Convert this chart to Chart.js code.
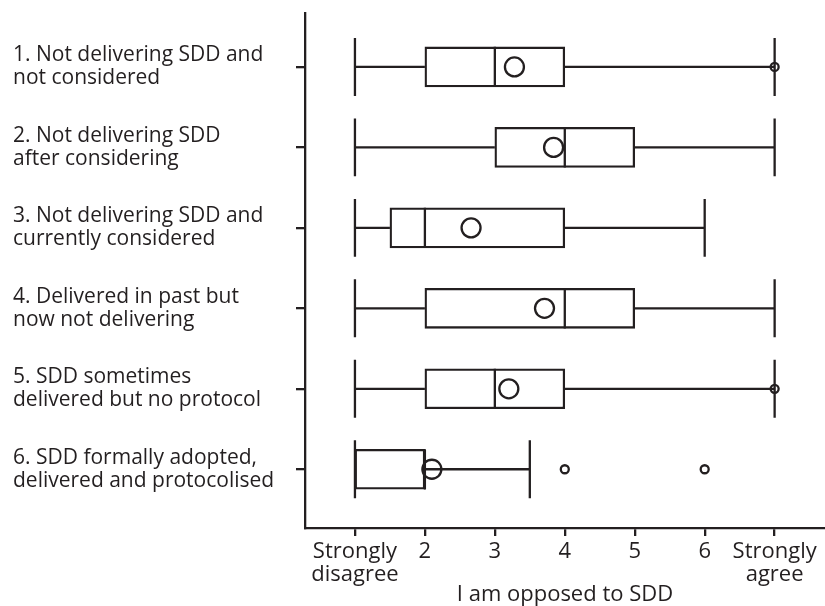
<!DOCTYPE html>
<html>
<head>
<meta charset="utf-8">
<script src="https://cdn.jsdelivr.net/npm/chart.js@4.4.1/dist/chart.umd.min.js"></script>
<style>
    html, body { margin: 0; padding: 0; background: #fff; overflow: hidden; }
    #wrap { width: 825px; height: 606px; }
</style>
</head>
<body>
<div id="wrap"><canvas id="box-chart"></canvas></div>
<script>
// Box plot: opposition to SDD by delivery group
const groupLabels = [
    ['1. Not delivering SDD and', 'not considered'],
    ['2. Not delivering SDD', 'after considering'],
    ['3. Not delivering SDD and', 'currently considered'],
    ['4. Delivered in past but', 'now not delivering'],
    ['5. SDD sometimes', 'delivered but no protocol'],
    ['6. SDD formally adopted,', 'delivered and protocolised']
];
const xTickLabels = [['Strongly', 'disagree'], '2', '3', '4', '5', '6', ['Strongly', 'agree']];

const whiskerMin = [1, 1, 1, 1, 1, 1];
const q1Values = [2, 3, 1.5, 2, 2, 1];
const medians = [3, 4, 2, 4, 3, 2];
const q3Values = [4, 5, 4, 5, 4, 2];
const whiskerMax = [7, 7, 6, 7, 7, 3.5];
const means = [3.28, 3.84, 2.66, 3.71, 3.2, 2.1];
const outliers = [[7], [], [], [], [7], [4, 6]];

const INK = '#231f20';
const STROKE = 2.3;
const BOX_HALF = 0.25;
const CAP_HALF = 0.36;

const gap = { x: null, y: null };

function buildLines() {
    const whiskers = [];
    const medianLines = [];
    groupLabels.forEach((_, i) => {
        const r = i + 1;
        whiskers.push({ x: whiskerMin[i], y: r }, { x: q1Values[i], y: r }, gap);
        whiskers.push({ x: q3Values[i], y: r }, { x: whiskerMax[i], y: r }, gap);
        whiskers.push({ x: whiskerMin[i], y: r - CAP_HALF }, { x: whiskerMin[i], y: r + CAP_HALF }, gap);
        whiskers.push({ x: whiskerMax[i], y: r - CAP_HALF }, { x: whiskerMax[i], y: r + CAP_HALF }, gap);
        medianLines.push({ x: medians[i], y: r - BOX_HALF }, { x: medians[i], y: r + BOX_HALF }, gap);
    });
    return { whiskers, medianLines };
}

const lines = buildLines();
const meanPoints = means.map((m, i) => ({ x: m, y: i + 1 }));
const outlierPoints = [];
outliers.forEach((list, i) => list.forEach(v => outlierPoints.push({ x: v, y: i + 1 })));
const boxData = q1Values.map((q, i) => ({ x: [q, q3Values[i]], y: i + 1 }));

const lineStyle = {
    type: 'scatter',
    showLine: true,
    spanGaps: false,
    borderColor: INK,
    borderWidth: STROKE,
    pointRadius: 0,
    pointHoverRadius: 0
};

new Chart(document.getElementById('box-chart'), {
    type: 'scatter',
    data: {
        datasets: [
            {
                label: 'Mean',
                data: meanPoints,
                pointRadius: 9.5,
                pointBorderWidth: STROKE,
                pointBorderColor: INK,
                pointBackgroundColor: 'rgba(0,0,0,0)'
            },
            {
                label: 'Outliers',
                data: outlierPoints,
                pointRadius: 4,
                pointBorderWidth: STROKE,
                pointBorderColor: INK,
                pointBackgroundColor: 'rgba(0,0,0,0)'
            },
            Object.assign({ label: 'Median', data: lines.medianLines }, lineStyle),
            Object.assign({ label: 'Whiskers', data: lines.whiskers }, lineStyle),
            {
                type: 'bar',
                label: 'IQR',
                indexAxis: 'y',
                data: boxData,
                grouped: false,
                barThickness: 40,
                backgroundColor: '#ffffff',
                borderColor: INK,
                borderWidth: STROKE,
                borderSkipped: false
            }
        ]
    },
    options: {
        responsive: true,
        maintainAspectRatio: false,
        animation: false,
        events: [],
        layout: { autoPadding: false, padding: { left: 13, top: 13, right: 0, bottom: 0 } },
        plugins: {
            legend: { display: false },
            tooltip: { enabled: false }
        },
        scales: {
            x: {
                type: 'linear',
                min: 0.286,
                max: 7.72,
                offset: false,
                afterBuildTicks: (scale) => {
                    scale.ticks = xTickLabels.map((_, i) => ({ value: i + 1 }));
                },
                afterFit: (scale) => {
                    scale.height = 78;
                    scale.paddingLeft = 0;
                    scale.paddingRight = 0;
                },
                ticks: {
                    autoSkip: false,
                    maxRotation: 0,
                    color: INK,
                    padding: 4,
                    font: { family: 'Open Sans', size: 22, lineHeight: 1.05 },
                    callback: (value) => xTickLabels[value - 1]
                },
                grid: {
                    offset: false,
                    drawOnChartArea: false,
                    color: INK,
                    lineWidth: STROKE,
                    tickLength: 8
                },
                border: { display: true, color: INK, width: STROKE },
                title: {
                    display: true,
                    text: 'I am opposed to SDD',
                    color: INK,
                    font: { family: 'Open Sans', size: 22, lineHeight: 1.0 },
                    padding: { top: 0, bottom: 0 }
                }
            },
            y: {
                type: 'linear',
                reverse: true,
                min: 0.33,
                max: 6.73,
                offset: false,
                afterBuildTicks: (scale) => {
                    scale.ticks = groupLabels.map((_, i) => ({ value: i + 1 }));
                },
                afterFit: (scale) => {
                    scale.width = 292;
                    scale.paddingTop = 0;
                    scale.paddingBottom = 0;
                },
                ticks: {
                    autoSkip: false,
                    crossAlign: 'far',
                    color: INK,
                    font: { family: 'Open Sans', size: 21, lineHeight: 1.1 },
                    callback: (value) => groupLabels[value - 1]
                },
                grid: {
                    offset: false,
                    drawOnChartArea: false,
                    color: INK,
                    lineWidth: STROKE,
                    tickLength: 9
                },
                border: { display: true, color: INK, width: STROKE }
            }
        }
    }
});
</script>
</body>
</html>
